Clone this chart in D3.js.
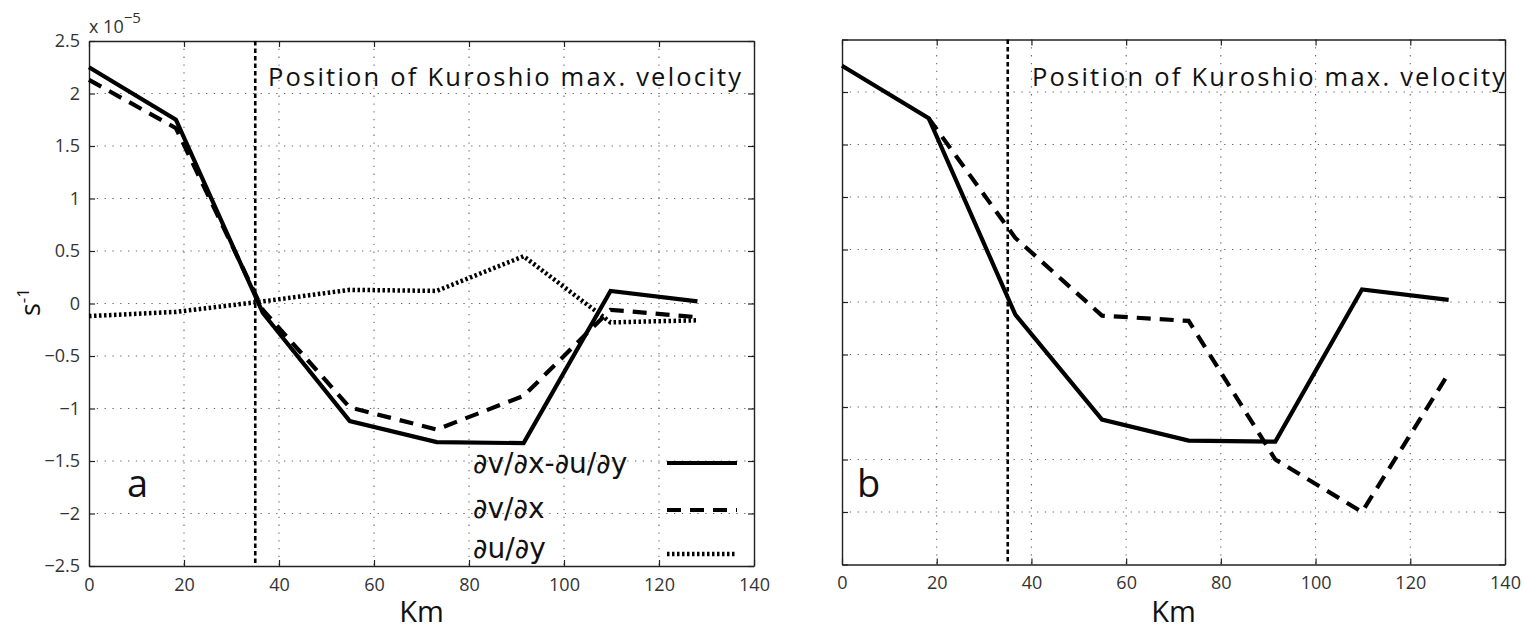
<!DOCTYPE html>
<html>
<head>
<meta charset="utf-8">
<script src="https://cdn.jsdelivr.net/npm/d3@7"></script>
<style>
  body { margin: 0; background: #fff; }
  svg { display: block; font-family: "Open Sans", "Noto Sans", sans-serif; }
  .tick text { font-size: 18px; fill: #333; font-family: "Open Sans", sans-serif; }
</style>
</head>
<body>
<svg id="chart" width="1524" height="633"></svg>
<script>
// distance across the stream (km)
const km = [0, 18.3, 36.6, 54.9, 73.2, 91.5, 109.8, 128.1];

// panel a (x 1e-5 s^-1)
const curlA = [2.25, 1.75, -0.09, -1.12, -1.32, -1.33, 0.12, 0.02];
const dvdxA = [2.13, 1.67, -0.06, -0.99, -1.2, -0.88, -0.06, -0.13];
const dudyA = [-0.12, -0.08, 0.02, 0.13, 0.12, 0.45, -0.18, -0.16];

// panel b
const curlB = [2.25, 1.75, -0.12, -1.12, -1.32, -1.33, 0.12, 0.02];
const dvdxB = [null, 1.75, 0.61, -0.13, -0.18, -1.5, -2.0, -0.68];

const kuroshioPos = 35;
const xTicks = [0, 20, 40, 60, 80, 100, 120, 140];
const yTicks = [2.5, 2, 1.5, 1, 0.5, 0, -0.5, -1, -1.5, -2, -2.5];
const legendLabels = ["∂v/∂x-∂u/∂y", "∂v/∂x", "∂u/∂y"];

const styles = {
  solid: { width: 4.2, dash: null },
  dashed: { width: 4.2, dash: "14,9" },
  dotted: { width: 4.5, dash: "2.5,2.5" }
};

const svg = d3.select("#chart");
const fmt = (v) => (v < 0 ? "\u2212" : "") + Math.abs(v);

function panel(opts) {
  const x = d3.scaleLinear().domain([0, 140]).range([opts.left, opts.right]);
  const y = d3.scaleLinear().domain([-2.5, 2.5]).range([opts.bottom, opts.top]);
  const g = svg.append("g");

  // dotted grid
  g.append("g").selectAll("line").data(xTicks.slice(1, -1)).enter().append("line")
    .attr("x1", (d) => x(d)).attr("x2", (d) => x(d))
    .attr("y1", opts.top).attr("y2", opts.bottom)
    .attr("stroke", "#666").attr("stroke-width", 1.1).attr("stroke-dasharray", "1.3,6.5");
  g.append("g").selectAll("line").data(yTicks.slice(1, -1)).enter().append("line")
    .attr("y1", (d) => y(d)).attr("y2", (d) => y(d))
    .attr("x1", opts.left).attr("x2", opts.right)
    .attr("stroke", "#666").attr("stroke-width", 1.1).attr("stroke-dasharray", "1.3,6.5");

  // axes with inward ticks on all four sides
  g.append("g").attr("transform", `translate(0,${opts.bottom})`)
    .call(d3.axisBottom(x).tickValues(xTicks).tickSizeInner(-6).tickSizeOuter(0).tickPadding(12));
  g.append("g").attr("transform", `translate(0,${opts.top})`)
    .call(d3.axisTop(x).tickValues(xTicks).tickSizeInner(-6).tickSizeOuter(0).tickFormat(""));
  g.append("g").attr("transform", `translate(${opts.left},0)`)
    .call(d3.axisLeft(y).tickValues(yTicks).tickSizeInner(-6).tickSizeOuter(0).tickPadding(9)
      .tickFormat(opts.yLabels ? fmt : ""));
  g.append("g").attr("transform", `translate(${opts.right},0)`)
    .call(d3.axisRight(y).tickValues(yTicks).tickSizeInner(-6).tickSizeOuter(0).tickFormat(""));
  g.selectAll(".domain").attr("stroke", "#222").attr("stroke-width", 1.4);
  g.selectAll(".tick line").attr("stroke", "#222").attr("stroke-width", 1.2);

  // position of Kuroshio max velocity
  g.append("line")
    .attr("x1", x(kuroshioPos)).attr("x2", x(kuroshioPos))
    .attr("y1", opts.top).attr("y2", opts.bottom)
    .attr("stroke", "#000").attr("stroke-width", 2.6).attr("stroke-dasharray", "4.5,3");

  const line = d3.line()
    .defined((d) => d[1] != null)
    .x((d) => x(d[0])).y((d) => y(d[1]));

  opts.series.forEach((s) => {
    g.append("path")
      .datum(km.map((k, i) => [k, s.values[i]]))
      .attr("d", line)
      .attr("fill", "none").attr("stroke", "#000")
      .attr("stroke-width", styles[s.style].width)
      .attr("stroke-dasharray", styles[s.style].dash)
      .attr("stroke-linejoin", "miter");
  });

  g.append("text")
    .attr("x", opts.noteX).attr("y", 86)
    .attr("font-size", 25.5).attr("fill", "#111")
    .attr("textLength", 473).attr("lengthAdjust", "spacing")
    .text("Position of Kuroshio max. velocity");

  g.append("text")
    .attr("x", opts.tagX).attr("y", 497)
    .attr("font-size", 38).attr("fill", "#111")
    .text(opts.tag);

  g.append("text")
    .attr("x", (opts.left + opts.right) / 2).attr("y", 622)
    .attr("text-anchor", "middle").attr("font-size", 29).attr("fill", "#111")
    .text("Km");

  return { x, y, g };
}

const a = panel({
  left: 89, right: 754, top: 41, bottom: 566, yLabels: true,
  noteX: 268, tagX: 127, tag: "a",
  series: [
    { values: curlA, style: "solid" },
    { values: dvdxA, style: "dashed" },
    { values: dudyA, style: "dotted" }
  ]
});

panel({
  left: 842, right: 1505, top: 39.5, bottom: 564.5, yLabels: false,
  noteX: 1032, tagX: 857, tag: "b",
  series: [
    { values: curlB, style: "solid" },
    { values: dvdxB, style: "dashed" }
  ]
});

// legend for panel a
const legendY = [463, 510, 554];
const legendBase = [473, 518, 558];
const legendStyle = ["solid", "dashed", "dotted"];
const lg = a.g.append("g");
legendLabels.forEach((lab, i) => {
  lg.append("text")
    .attr("x", 473).attr("y", legendBase[i])
    .attr("font-size", 28).attr("fill", "#111")
    .attr("font-family", "'DejaVu Sans', sans-serif")
    .text(lab);
  lg.append("line")
    .attr("x1", 667).attr("x2", 737)
    .attr("y1", legendY[i]).attr("y2", legendY[i])
    .attr("stroke", "#000")
    .attr("stroke-width", styles[legendStyle[i]].width)
    .attr("stroke-dasharray", styles[legendStyle[i]].dash);
});

// exponent above panel a
const ex = svg.append("text").attr("x", 89).attr("y", 33)
  .attr("font-size", 18).attr("fill", "#333");
ex.append("tspan").text("x 10");
ex.append("tspan").attr("dy", -10).attr("font-size", 15).text("\u22125");

// y axis label s^-1
const yl = svg.append("text")
  .attr("transform", "translate(40,302) rotate(-90)")
  .attr("text-anchor", "middle").attr("font-size", 27).attr("fill", "#111");
yl.append("tspan").text("s");
yl.append("tspan").attr("dy", -11).attr("font-size", 17).text("-1");
</script>
</body>
</html>
